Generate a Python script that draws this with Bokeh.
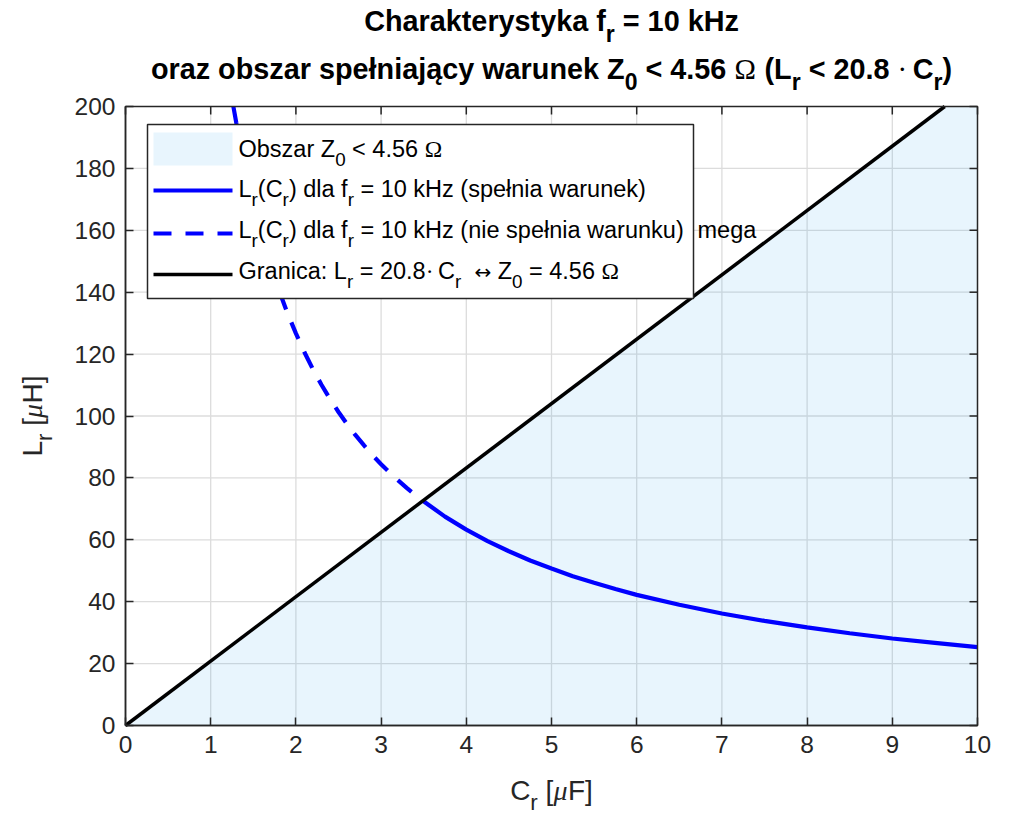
from math import pi

from bokeh.plotting import figure
from bokeh.models import Range1d, Label, FixedTicker
from bokeh.embed import file_html
from bokeh.resources import INLINE

# ---------------------------------------------------------------- data
# L_r(C_r) for f_r = 10 kHz, C_r in uF, L_r in uH
# part above the boundary (Z0 condition not met) -> dashed
c_dashed = [1.266, 1.30, 1.35, 1.40, 1.45, 1.50, 1.60, 1.70, 1.80, 1.90,
            2.00, 2.10, 2.20, 2.30, 2.40, 2.50, 2.60, 2.70, 2.80, 2.90,
            3.00, 3.10, 3.20, 3.30, 3.40, 3.49]
l_dashed = [200.0, 194.8, 187.6, 180.9, 174.7, 168.9, 158.3, 149.0, 140.7, 133.3,
            126.7, 120.6, 115.1, 110.1, 105.5, 101.3, 97.4, 93.8, 90.5, 87.3,
            84.4, 81.7, 79.2, 76.8, 74.5, 72.6]
# part below the boundary (Z0 condition met) -> solid
c_solid = [3.49, 3.75, 4.00, 4.25, 4.50, 4.75, 5.00, 5.25, 5.50, 5.75,
           6.00, 6.50, 7.00, 7.50, 8.00, 8.50, 9.00, 9.50, 10.00]
l_solid = [72.6, 67.5, 63.3, 59.6, 56.3, 53.3, 50.7, 48.2, 46.1, 44.1,
           42.2, 39.0, 36.2, 33.8, 31.7, 29.8, 28.1, 26.7, 25.3]

boundary_slope = 20.8          # L_r = 20.8 * C_r  <->  Z0 = 4.56 ohm
x_lim = (0, 10)
y_lim = (0, 200)
x_ticks = [0, 1, 2, 3, 4, 5, 6, 7, 8, 9, 10]
y_ticks = [0, 20, 40, 60, 80, 100, 120, 140, 160, 180, 200]

# ---------------------------------------------------------------- layout
W, H = 1009, 814
FL, FR, FT, FB = 125, 977, 106, 725      # axes box in pixels
AX = "#262626"
SANS = "Liberation Sans"
SERIF = "Liberation Serif"
BASE_FIX = 0.33                          # label anchor -> alphabetic baseline


def px2x(px):
    return x_lim[0] + (px - FL) / (FR - FL) * (x_lim[1] - x_lim[0])


def py2y(py):
    return y_lim[0] + (FB - py) / (FB - FT) * (y_lim[1] - y_lim[0])


# advance widths (1/1000 em), Arial-compatible metrics
W_REG = {' ': 278, '(': 333, ')': 333, '.': 278, ':': 278, '<': 584, '=': 584,
         '[': 278, ']': 278, 'C': 722, 'F': 611, 'G': 778, 'H': 722, 'L': 556,
         'O': 778, 'Z': 611, 'a': 556, 'b': 556, 'c': 500, 'd': 556, 'e': 556,
         'f': 278, 'g': 556, 'h': 556, 'i': 222, 'j': 222, 'k': 500, 'l': 222,
         'm': 833, 'n': 556, 'o': 556, 'p': 556, 'r': 333, 's': 500, 't': 278,
         'u': 556, 'w': 722, 'y': 500, 'z': 500, 'ł': 222, 'ą': 556}
W_BOLD = {' ': 278, '(': 333, ')': 333, '.': 278, '<': 584, '=': 584,
          'C': 722, 'H': 722, 'L': 611, 'Z': 611, 'a': 556, 'b': 611, 'c': 556,
          'e': 556, 'f': 333, 'g': 611, 'h': 611, 'i': 278, 'j': 278, 'k': 556,
          'ł': 278, 'n': 611, 'o': 611, 'p': 611, 'r': 389, 's': 556, 't': 333,
          'u': 611, 'w': 778, 'y': 556, 'z': 500, 'ą': 556}
W_SERIF = {'Ω': 768, 'μ': 520, '·': 250, ' ': 250}
W_ARROW = {'↔': 838}

# the canvas is one data frame; the axes box sits inside it
p = figure(width=W, height=H, output_backend="svg", toolbar_location=None,
           x_range=Range1d(px2x(0), px2x(W)), y_range=Range1d(py2y(H), py2y(0)),
           min_border=0, min_border_left=0, min_border_right=0,
           min_border_top=0, min_border_bottom=0)
p.title.text = ""
p.title.visible = False
p.background_fill_color = "white"
p.border_fill_color = "white"
p.outline_line_color = None
p.grid.visible = False


def draw_runs(runs, size, base_px, start_px=None, center_px=None, bold=False,
              color="black", vertical=False, sub_scale=0.8, sub_drop=0.38):
    """Place one line of text built from runs (text, kind):
    'n' normal, 's' subscript, 'g' serif symbol, 'gi' italic serif symbol,
    'a' arrow symbol."""
    items = []
    for text, kind in runs:
        fs = size * sub_scale if kind == "s" else (size * 0.85 if kind == "a" else size)
        if kind in ("g", "gi"):
            table = W_SERIF
        elif kind == "a":
            table = W_ARROW
        else:
            table = W_BOLD if bold else W_REG
        items.append((text, kind, fs, table))

    def tw(s, fs, table):
        return sum(table.get(ch, 556) for ch in s) * fs / 1000.0

    total = sum(tw(t, fs, tb) for t, k, fs, tb in items)
    if center_px is not None:
        pos = center_px + total / 2 if vertical else center_px - total / 2
    else:
        pos = start_px
    sgn = -1 if vertical else 1
    for text, kind, fs, table in items:
        lead = len(text) - len(text.lstrip(" "))
        trail = len(text) - len(text.rstrip(" "))
        core = text.strip(" ")
        pos += sgn * tw(" " * lead, fs, table)
        drop = size * sub_drop if kind == "s" else 0
        shift = drop - BASE_FIX * fs
        if kind in ("g", "gi"):
            font = SERIF
        elif kind == "a":
            font = "DejaVu Sans"
        else:
            font = SANS
        if kind == "gi":
            style = "italic"
        elif bold and kind in ("n", "s"):
            style = "bold"
        else:
            style = "normal"
        if core:
            if vertical:
                lab = Label(x=px2x(base_px + shift), y=py2y(pos), angle=pi / 2)
            else:
                lab = Label(x=px2x(pos), y=py2y(base_px + shift), angle=0)
            lab.text = core
            lab.text_font = font
            lab.text_font_size = f"{fs:.1f}px"
            lab.text_font_style = style
            lab.text_color = color
            lab.text_align = "left"
            lab.text_baseline = "alphabetic"
            p.add_layout(lab)
        pos += sgn * tw(core, fs, table)
        pos += sgn * tw(" " * trail, fs, table)


# ---------------------------------------------------------------- grid
GRID = "#DCDCDC"
gx = x_ticks[1:-1]
gy = y_ticks[1:-1]
p.segment(x0=gx, y0=[y_lim[0]] * len(gx), x1=gx, y1=[y_lim[1]] * len(gx),
          line_color=GRID, line_width=1.3)
p.segment(x0=[x_lim[0]] * len(gy), y0=gy, x1=[x_lim[1]] * len(gy), y1=gy,
          line_color=GRID, line_width=1.3)

# ---------------------------------------------------------------- region Z0 < 4.56 ohm
c_edge = y_lim[1] / boundary_slope
region_x = [x_lim[0], c_edge, x_lim[1], x_lim[1]]
region_y = [boundary_slope * x_lim[0], y_lim[1], y_lim[1], y_lim[0]]
FILL = "#199BEB"
FILL_A = 0.1
p.patch(region_x, region_y, fill_color=FILL, fill_alpha=FILL_A, line_color=None)

# ---------------------------------------------------------------- curves
BLUE = "#0000FF"
DASH = "18 14"
p.line(c_solid, l_solid, line_color=BLUE, line_width=4.2)
p.line(c_dashed, l_dashed, line_color=BLUE, line_width=4.2, line_dash=DASH)
boundary_c = [x_lim[0], c_edge]
boundary_l = [boundary_slope * c for c in boundary_c]
p.line(boundary_c, boundary_l, line_color="black", line_width=3.5)

# ---------------------------------------------------------------- axes box, axes
p.quad(left=x_lim[0], right=x_lim[1], bottom=y_lim[0], top=y_lim[1],
       fill_color=None, line_color=AX, line_width=1.5)

p.xaxis.fixed_location = y_lim[0]
p.yaxis.fixed_location = x_lim[0]
p.xaxis.bounds = x_lim
p.yaxis.bounds = y_lim
for ax in (p.xaxis, p.yaxis):
    ax.axis_line_color = AX
    ax.axis_line_width = 1.5
    ax.major_tick_line_color = AX
    ax.major_tick_line_width = 1.5
    ax.major_tick_in = 8
    ax.major_tick_out = 0
    ax.minor_tick_line_color = None
    ax.major_label_text_font = SANS
    ax.major_label_text_font_size = "24.5px"
    ax.major_label_text_color = AX
    ax.major_label_standoff = 10
p.xaxis.ticker = FixedTicker(ticks=x_ticks)
p.yaxis.ticker = FixedTicker(ticks=y_ticks)

# mirrored inward ticks on the top and right edges
tdx = 8 / (FR - FL) * (x_lim[1] - x_lim[0])
tdy = 8 / (FB - FT) * (y_lim[1] - y_lim[0])
p.segment(x0=x_ticks, y0=[y_lim[1]] * len(x_ticks), x1=x_ticks,
          y1=[y_lim[1] - tdy] * len(x_ticks), line_color=AX, line_width=1.5)
p.segment(x0=[x_lim[1]] * len(y_ticks), y0=y_ticks, x1=[x_lim[1] - tdx] * len(y_ticks),
          y1=y_ticks, line_color=AX, line_width=1.5)

# ---------------------------------------------------------------- legend
LG = 23.5
draw_runs([("mega", "n")], LG, 237, start_px=697)
p.quad(left=px2x(147), right=px2x(693), top=py2y(124), bottom=py2y(298),
       fill_color="white", line_color=AX, line_width=1.5)
p.quad(left=px2x(153), right=px2x(232), top=py2y(132), bottom=py2y(165),
       fill_color=FILL, fill_alpha=FILL_A, line_color=None)
p.line([px2x(153), px2x(232)], [py2y(190)] * 2, line_color=BLUE, line_width=4.2)
p.line([px2x(153), px2x(232)], [py2y(233)] * 2, line_color=BLUE, line_width=4.2,
       line_dash=DASH)
p.line([px2x(153), px2x(232)], [py2y(274)] * 2, line_color="black", line_width=3.5)

draw_runs([("Obszar Z", "n"), ("0", "s"), (" < 4.56 ", "n"), ("Ω", "g")],
          LG, 156, start_px=238)
draw_runs([("L", "n"), ("r", "s"), ("(C", "n"), ("r", "s"), (") dla f", "n"),
           ("r", "s"), (" = 10 kHz (spełnia warunek)", "n")],
          LG, 196, start_px=238)
draw_runs([("L", "n"), ("r", "s"), ("(C", "n"), ("r", "s"), (") dla f", "n"),
           ("r", "s"), (" = 10 kHz (nie spełnia warunku)", "n")],
          LG, 237, start_px=238)
draw_runs([("Granica: L", "n"), ("r", "s"), (" = 20.8", "n"), ("·", "g"),
           (" C", "n"), ("r", "s"), (" ", "n"), ("↔", "a"), (" Z", "n"),
           ("0", "s"), (" = 4.56 ", "n"), ("Ω", "g")],
          LG, 278, start_px=238)

# ---------------------------------------------------------------- titles and axis labels
TT = 28.8
draw_runs([("Charakterystyka f", "n"), ("r", "s"), (" = 10 kHz", "n")],
          TT, 30, center_px=(FL + FR) / 2, bold=True, sub_scale=0.8)
draw_runs([("oraz obszar spełniający warunek Z", "n"), ("0", "s"), (" < 4.56 ", "n"),
           ("Ω", "g"), (" (L", "n"), ("r", "s"), (" < 20.8 ", "n"), ("·", "g"),
           (" C", "n"), ("r", "s"), (")", "n")],
          TT, 78, center_px=(FL + FR) / 2, bold=True, sub_scale=0.8)

LB = 28
draw_runs([("C", "n"), ("r", "s"), (" [", "n"), ("μ", "gi"), ("F]", "n")],
          LB, 799, center_px=(FL + FR) / 2, color=AX)
draw_runs([("L", "n"), ("r", "s"), (" [", "n"), ("μ", "gi"), ("H]", "n")],
          LB, 41, center_px=(FT + FB) / 2, color=AX, vertical=True)

open("out.html", "w").write(file_html(p, INLINE))
